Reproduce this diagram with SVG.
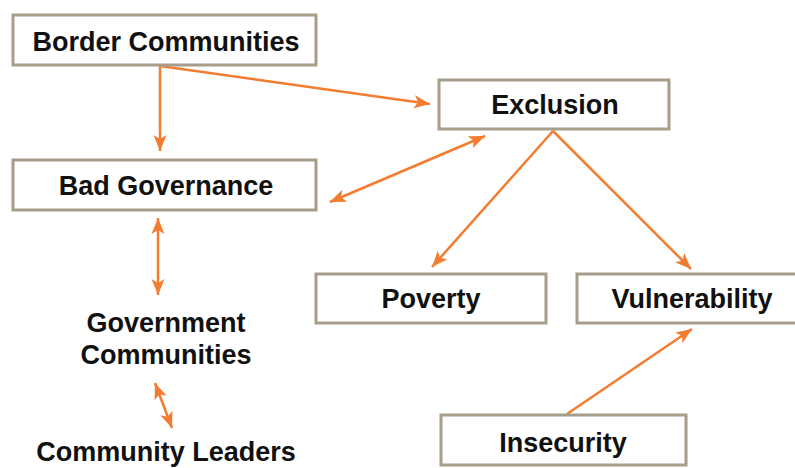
<svg xmlns="http://www.w3.org/2000/svg" width="795" height="468" viewBox="0 0 795 468">
<style>
.box{fill:#fff;stroke:#a69d8a;stroke-width:3}
.lbl{font-family:"Liberation Sans",Arial,sans-serif;font-weight:bold;font-size:27px;fill:#111;text-anchor:middle}
.arr{stroke:#f47c2f;stroke-width:2.5;fill:none}
</style>
<defs>
<marker id="ah" markerUnits="userSpaceOnUse" markerWidth="17" markerHeight="15" refX="16" refY="7.5" orient="auto-start-reverse">
<path d="M0,1 L16,7.5 L0,14 L4,7.5 Z" fill="#f47c2f"/>
</marker>
</defs>
<rect width="795" height="468" fill="#fff"/>
<g id="connectors">
<line class="arr" x1="160" y1="66" x2="160" y2="151" marker-end="url(#ah)"/>
<line class="arr" x1="160" y1="66" x2="430" y2="104" marker-end="url(#ah)"/>
<line class="arr" x1="330" y1="202" x2="485" y2="136" marker-start="url(#ah)" marker-end="url(#ah)"/>
<line class="arr" x1="553" y1="131" x2="432" y2="267" marker-end="url(#ah)"/>
<line class="arr" x1="553" y1="131" x2="691" y2="269" marker-end="url(#ah)"/>
<line class="arr" x1="567" y1="414" x2="692" y2="329" marker-end="url(#ah)"/>
<line class="arr" x1="158" y1="218" x2="158" y2="295" marker-start="url(#ah)" marker-end="url(#ah)"/>
<line class="arr" x1="155" y1="383" x2="172" y2="428" marker-start="url(#ah)" marker-end="url(#ah)"/>
</g>
<g id="border-communities">
<rect class="box" x="13" y="15" width="303" height="50"/>
<text class="lbl" x="166" y="51">Border Communities</text>
</g>
<g id="bad-governance">
<rect class="box" x="13" y="160" width="303" height="50"/>
<text class="lbl" x="166" y="195">Bad Governance</text>
</g>
<g id="exclusion">
<rect class="box" x="439" y="80" width="230" height="49"/>
<text class="lbl" x="555" y="114">Exclusion</text>
</g>
<g id="poverty">
<rect class="box" x="316" y="274" width="230" height="49"/>
<text class="lbl" x="431" y="308">Poverty</text>
</g>
<g id="vulnerability">
<rect class="box" x="577" y="274" width="230" height="49"/>
<text class="lbl" x="692" y="308">Vulnerability</text>
</g>
<g id="government-communities">
<text class="lbl" x="166" y="332">Government</text>
<text class="lbl" x="166" y="364">Communities</text>
</g>
<g id="community-leaders">
<text class="lbl" x="166" y="461">Community Leaders</text>
</g>
<g id="insecurity">
<rect class="box" x="441" y="415" width="245" height="50"/>
<text class="lbl" x="563" y="452">Insecurity</text>
</g>
</svg>
